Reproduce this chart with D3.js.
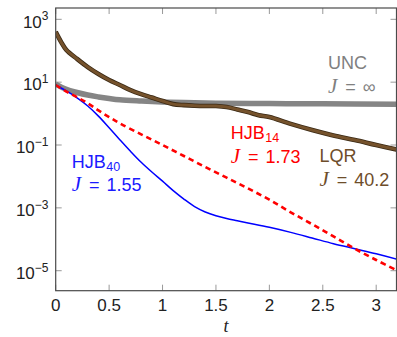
<!DOCTYPE html>
<html><head><meta charset="utf-8">
<script src="https://cdn.jsdelivr.net/npm/d3@7"></script>
<style>html,body{margin:0;padding:0;background:#fff;}svg{display:block;}</style>
</head><body>
<script>
// ---- data ----
const tUNC = [0, 0.1, 0.2, 0.3, 0.4, 0.5, 0.6, 0.8, 1.0, 1.2, 1.5, 2.0, 2.5, 3.2];
const vUNC = [8.7, 5.89, 4.68, 3.89, 3.39, 3.02, 2.75, 2.51, 2.34, 2.24, 2.14, 2.09, 2.04, 2.0];
const tLQR = [0, 0.05, 0.1, 0.2, 0.3, 0.4, 0.5, 0.6, 0.7, 0.8, 0.9, 1.0, 1.1, 1.2, 1.3, 1.4, 1.5, 1.6, 1.7, 1.8, 1.9, 2.0, 2.2, 2.4, 2.6, 2.8, 3.0, 3.2];
const vLQR = [398, 191, 105, 55, 30.2, 18.2, 11.7, 8.13, 5.62, 4.17, 3.24, 2.51, 2.0, 1.86, 1.78, 1.74, 1.74, 1.62, 1.35, 1.12, 0.89, 0.78, 0.47, 0.30, 0.20, 0.145, 0.10, 0.071];
const tHJB40 = [0, 0.1, 0.2, 0.3, 0.4, 0.5, 0.6, 0.7, 0.8, 0.9, 1.0, 1.1, 1.2, 1.3, 1.4, 1.5, 1.6, 1.7, 1.8, 2.0, 2.2, 2.4, 2.6, 2.8, 3.0, 3.2];
const vHJB40 = [8.13, 5.25, 3.16, 1.74, 0.832, 0.355, 0.148, 0.0631, 0.0282, 0.0138, 0.00708, 0.00355, 0.00191, 0.0011, 0.000741, 0.000562, 0.000457, 0.000389, 0.000331, 0.00024, 0.000166, 0.00011, 7.24e-5, 5.01e-5, 3.47e-5, 2.29e-5];
const tHJB14 = [0, 0.1, 0.2, 0.3, 0.4, 0.5, 0.6, 0.8, 1.0, 1.2, 1.4, 1.6, 1.8, 2.0, 2.2, 2.4, 2.6, 2.8, 3.0, 3.2];
const vHJB14 = [8.13, 5.01, 3.31, 2.14, 1.26, 0.776, 0.49, 0.219, 0.1, 0.0447, 0.02, 0.00912, 0.00417, 0.00182, 0.000724, 0.000302, 0.000123, 5.01e-5, 2.19e-5, 1.0e-5];
const xTickVals = [0, 0.5, 1, 1.5, 2, 2.5, 3];
const xTickLabels = ["0", "0.5", "1", "1.5", "2", "2.5", "3"];
const yTickExps = [3, 1, -1, -3, -5];
const xDomain = [0, 3.19];
const yDomain = [Math.pow(10, -5.636), Math.pow(10, 3.36)];

// ---- layout ----
const W = 397, H = 337;
const L = 55.7, R = 396.5, T = 8, B = 290.7;
const svg = d3.select("body").append("svg").attr("width", W).attr("height", H);
const x = d3.scaleLinear().domain(xDomain).range([L, R]);
const y = d3.scaleLog().domain(yDomain).range([B, T]);
const sans = "'Liberation Sans', Arial, sans-serif";
const serif = "'Liberation Serif', 'DejaVu Serif', serif";

svg.append("defs").append("clipPath").attr("id", "clip")
  .append("rect").attr("x", L).attr("y", T).attr("width", R - L).attr("height", B - T);

// ticks
const tickCol = "#999", tl = 6;
const gt = svg.append("g").attr("stroke", tickCol).attr("stroke-width", 1);
xTickVals.forEach(v => {
  gt.append("line").attr("x1", x(v)).attr("x2", x(v)).attr("y1", B).attr("y2", B - tl);
  gt.append("line").attr("x1", x(v)).attr("x2", x(v)).attr("y1", T).attr("y2", T + tl);
});
yTickExps.forEach(e => {
  const yy = y(Math.pow(10, e));
  gt.append("line").attr("x1", L).attr("x2", L + tl).attr("y1", yy).attr("y2", yy);
  gt.append("line").attr("x1", R).attr("x2", R - tl).attr("y1", yy).attr("y2", yy);
});

// curves
const line = (ts, vs) => d3.line().curve(d3.curveCatmullRom.alpha(0.5))
  .x((d, i) => x(ts[i])).y((d, i) => y(vs[i]))(vs);
const gc = svg.append("g").attr("clip-path", "url(#clip)").attr("fill", "none");
gc.append("path").attr("d", line(tUNC, vUNC)).attr("stroke", "#858585").attr("stroke-width", 5.5);
gc.append("path").attr("d", line(tLQR, vLQR)).attr("stroke", "#3a2914").attr("stroke-width", 4.6);
gc.append("path").attr("d", line(tLQR, vLQR)).attr("stroke", "#75522c").attr("stroke-width", 3);
gc.append("path").attr("d", line(tHJB40, vHJB40)).attr("stroke", "#0000ff").attr("stroke-width", 1.5);
gc.append("path").attr("d", line(tHJB14, vHJB14)).attr("stroke", "#ff0000").attr("stroke-width", 2.6)
  .attr("stroke-dasharray", "5.5,4");

// frame
svg.append("rect").attr("x", L).attr("y", T).attr("width", R - L).attr("height", B - T)
  .attr("fill", "none").attr("stroke", "#4a4a4a").attr("stroke-width", 1.2);

// tick labels
xTickVals.forEach((v, i) => {
  svg.append("text").attr("x", x(v)).attr("y", 311).attr("text-anchor", "middle")
    .attr("font-family", sans).attr("font-size", 17).attr("fill", "#222").text(xTickLabels[i]);
});
yTickExps.forEach(e => {
  const yy = y(Math.pow(10, e));
  const t = svg.append("text").attr("x", 48.5).attr("y", yy + 8.3).attr("text-anchor", "end")
    .attr("font-family", sans).attr("fill", "#222");
  t.append("tspan").attr("font-size", 17).text("10");
  t.append("tspan").attr("font-size", 12).attr("dy", -7.3).text(e < 0 ? "\u2212" + (-e) : String(e));
});
svg.append("text").attr("x", (L + R) / 2).attr("y", 331.5).attr("text-anchor", "middle")
  .attr("font-family", serif).attr("font-style", "italic").attr("font-size", 18).attr("fill", "#222").text("t");

// curve labels
function nameLabel(xp, yp, main, sub, col) {
  const t = svg.append("text").attr("x", xp).attr("y", yp).attr("font-family", sans).attr("fill", col);
  t.append("tspan").attr("font-size", 18).text(main);
  if (sub) t.append("tspan").attr("font-size", 12.5).attr("dy", 3).attr("dx", 0.5).text(sub);
}
function costLabel(xp, yp, val, col) {
  const t = svg.append("text").attr("x", xp).attr("y", yp).attr("fill", col);
  t.append("tspan").attr("font-family", serif).attr("font-style", "italic").attr("font-size", 21).text("J");
  t.append("tspan").attr("font-family", sans).attr("font-size", 18).attr("dx", 8).text("=");
  t.append("tspan").attr("font-family", sans).attr("font-size", 18).attr("dx", 7).text(val);
}
nameLabel(328, 69, "UNC", null, "#808080");
costLabel(328, 93, "\u221E", "#808080");
nameLabel(230.7, 139.3, "HJB", "14", "#ff0000");
costLabel(230.7, 163, "1.73", "#ff0000");
nameLabel(319.5, 161.7, "LQR", null, "#6e4d2a");
costLabel(319.5, 185.5, "40.2", "#6e4d2a");
nameLabel(71.7, 168.3, "HJB", "40", "#1a1aff");
costLabel(71.7, 190.5, "1.55", "#1a1aff");
</script>
</body></html>
